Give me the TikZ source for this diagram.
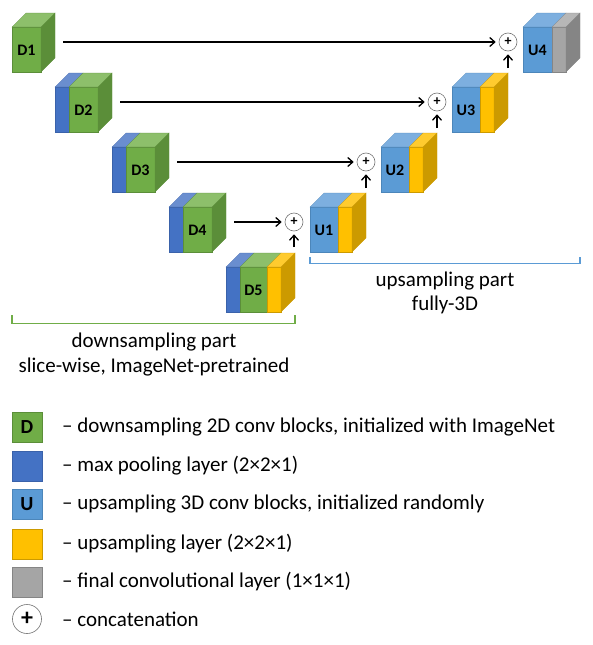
\documentclass[tikz,border=0pt]{standalone}
\usepackage{fontspec}
\setmainfont{Carlito}
\usetikzlibrary{arrows.meta}

\definecolor{convg}{HTML}{70AD47}
\definecolor{convgtop}{HTML}{8DBF6B}
\definecolor{convgside}{HTML}{5B8E39}
\definecolor{pool}{HTML}{4472C4}
\definecolor{pooltop}{HTML}{6A8ECF}
\definecolor{poolside}{HTML}{3A62AA}
\definecolor{upc}{HTML}{5B9BD5}
\definecolor{upctop}{HTML}{7DAFDF}
\definecolor{upcside}{HTML}{4C86BA}
\definecolor{upl}{HTML}{FFC000}
\definecolor{upltop}{HTML}{FFCB2F}
\definecolor{uplside}{HTML}{CC9A00}
\definecolor{fin}{HTML}{A5A5A5}
\definecolor{fintop}{HTML}{B7B7B7}
\definecolor{finside}{HTML}{858585}

% one coloured slab of a block: left x, top y, width, colour
\newcommand{\slab}[4]{%
  \filldraw[fill=#4, draw=#4side, line width=0.3pt] (#1,#2) rectangle ++(#3,45);
  \filldraw[fill=#4top, draw=#4side, line width=0.3pt] (#1,#2) -- ++(14,-14) -- ++(#3,0) -- ++(-14,14) -- cycle;}
% right face of a block: x, top y, colour
\newcommand{\sideface}[3]{%
  \filldraw[fill=#3side, draw=#3side, line width=0.3pt] (#1,#2) -- ++(14,-14) -- ++(0,45) -- ++(-14,14) -- cycle;}

\tikzset{
  lbl/.style={font=\fontsize{16}{18}\selectfont\bfseries, inner sep=0pt},
  plus/.style={circle, draw=black!55, line width=0.6pt, minimum size=18pt, inner sep=0pt,
    font=\fontsize{14}{14}\selectfont\bfseries},
  conn/.style={line width=1.3pt, -{Straight Barb[length=5pt,width=9pt]}, shorten >=3pt},
  brace/.style={line width=1.4pt},
  txt/.style={font=\fontsize{21}{25}\selectfont, inner sep=0pt},
  key/.style={minimum size=30pt, inner sep=0pt, font=\fontsize{20}{20}\selectfont\bfseries},
}

\begin{document}
\begin{tikzpicture}[x=1pt,y=-1pt]
    \useasboundingbox (0,0) rectangle (593,645);
    %D1
    \slab{12}{27}{29}{convg}
    \sideface{41}{27}{convg}
    \node[lbl] (d1) at (26.5,50) {D1};
    %D2
    \slab{55}{87}{14}{pool}
    \slab{69}{87}{29}{convg}
    \sideface{98}{87}{convg}
    \node[lbl] (d2) at (83.5,110) {D2};
    %D3
    \slab{112}{147}{14}{pool}
    \slab{126}{147}{29}{convg}
    \sideface{155}{147}{convg}
    \node[lbl] (d3) at (140.5,170) {D3};
    %D4
    \slab{169}{207}{14}{pool}
    \slab{183}{207}{29}{convg}
    \sideface{212}{207}{convg}
    \node[lbl] (d4) at (197.5,230) {D4};
    %D5
    \slab{226}{267}{14}{pool}
    \slab{240}{267}{27}{convg}
    \slab{267}{267}{14}{upl}
    \sideface{281}{267}{upl}
    \node[lbl] (d5) at (253.5,290) {D5};
    %U1
    \slab{310}{207}{28}{upc}
    \slab{338}{207}{14}{upl}
    \sideface{352}{207}{upl}
    \node[lbl] (u1) at (324,230) {U1};
    %U2
    \slab{381}{147}{28}{upc}
    \slab{409}{147}{14}{upl}
    \sideface{423}{147}{upl}
    \node[lbl] (u2) at (395,170) {U2};
    %U3
    \slab{452}{87}{28}{upc}
    \slab{480}{87}{14}{upl}
    \sideface{494}{87}{upl}
    \node[lbl] (u3) at (466,110) {U3};
    %U4
    \slab{523}{27}{29}{upc}
    \slab{552}{27}{14}{fin}
    \sideface{566}{27}{fin}
    \node[lbl] (u4) at (537.5,50) {U4};
    %concatenations
    \node[plus] (c1) at (508,42) {+};
    \node[plus] (c2) at (437,102) {+};
    \node[plus] (c3) at (366,162) {+};
    \node[plus] (c4) at (294,222) {+};
    \coordinate (s1) at (63,42);
    \coordinate (s2) at (120,102);
    \coordinate (s3) at (177,162);
    \coordinate (s4) at (234,222);
    \coordinate (b1) at (508,68);
    \coordinate (b2) at (437,128);
    \coordinate (b3) at (366,188);
    \coordinate (b4) at (294,247);
    \draw[conn] (s1) -- (c1);
    \draw[conn] (s2) -- (c2);
    \draw[conn] (s3) -- (c3);
    \draw[conn] (s4) -- (c4);
    \draw[conn] (b1) -- (c1);
    \draw[conn] (b2) -- (c2);
    \draw[conn] (b3) -- (c3);
    \draw[conn] (b4) -- (c4);
    %brackets
    \draw[brace, upc] (310,257) -- (310,263.5) -- (580,263.5) -- (580,257);
    \node[txt] (up1) at (445,281) {upsampling part};
    \node[txt] (up2) at (445,305) {fully-3D};
    \draw[brace, convg] (12,315) -- (12,323.5) -- (295,323.5) -- (295,315);
    \node[txt] (dn1) at (154,342) {downsampling part};
    \node[txt] (dn2) at (154,367) {slice-wise, ImageNet-pretrained};
    %legend
    \node[key, fill=convg, draw=convgside, line width=0.4pt] (kd) at (27,427) {D};
    \node[key, fill=pool, draw=poolside, line width=0.4pt] (kp) at (27,466) {};
    \node[key, fill=upc, draw=upcside, line width=0.4pt] (ku) at (27,504) {U};
    \node[key, fill=upl, draw=uplside, line width=0.4pt] (kl) at (27,544) {};
    \node[key, fill=fin, draw=finside, line width=0.4pt] (kf) at (27,582) {};
    \node[plus, minimum size=29pt, font=\fontsize{24}{24}\selectfont\bfseries] (kc) at (27,619) {+};
    \node[txt, anchor=west] (td) at (62,427) {– downsampling 2D conv blocks, initialized with ImageNet};
    \node[txt, anchor=west] (tp) at (62,466) {– max pooling layer (2×2×1)};
    \node[txt, anchor=west] (tu) at (62,504) {– upsampling 3D conv blocks, initialized randomly};
    \node[txt, anchor=west] (tl) at (62,544) {– upsampling layer (2×2×1)};
    \node[txt, anchor=west] (tf) at (62,582) {– final convolutional layer (1×1×1)};
    \node[txt, anchor=west] (tc) at (62,619) {– concatenation};
\end{tikzpicture}
\end{document}
